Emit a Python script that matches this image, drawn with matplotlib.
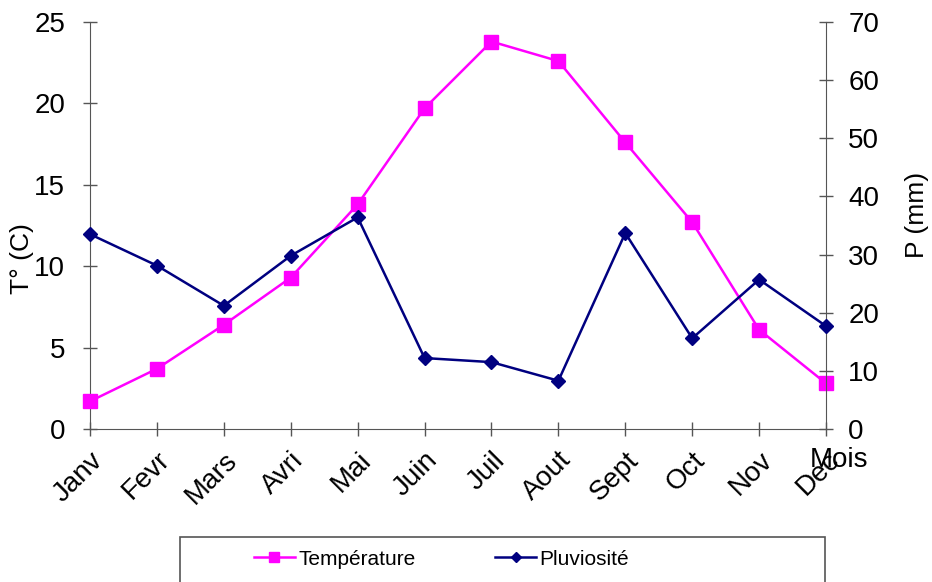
import matplotlib.pyplot as plt
from matplotlib.patches import Rectangle
from matplotlib.transforms import ScaledTranslation

plt.rcParams['font.family'] = ['Liberation Sans', 'DejaVu Sans']

mois = ['Janv', 'Fevr', 'Mars', 'Avri', 'Mai', 'Juin', 'Juil', 'Aout', 'Sept', 'Oct', 'Nov', 'Dec']
temperature = [1.7, 3.7, 6.4, 9.3, 13.8, 19.7, 23.8, 22.6, 17.6, 12.7, 6.1, 2.8]
pluviosite = [33.5, 28.1, 21.2, 29.8, 36.4, 12.2, 11.5, 8.3, 33.7, 15.6, 25.7, 17.7]

fig = plt.figure(figsize=(9.32, 5.82), dpi=100)
ax = fig.add_axes([0.0966, 0.2629, 0.7897, 0.6993])
ax2 = ax.twinx()

x = list(range(len(mois)))
l1, = ax.plot(x, temperature, color='#FF00FF', marker='s', markersize=10, linewidth=1.8, label='Température', clip_on=False, zorder=3)
l2, = ax2.plot(x, pluviosite, color='#000080', marker='D', markersize=7, linewidth=1.8, label='Pluviosité', clip_on=False, zorder=3)

ax.set_xlim(0, 11)
ax.set_ylim(0, 25)
ax2.set_ylim(0, 70)
ax.set_yticks(range(0, 26, 5))
ax2.set_yticks(range(0, 71, 10))
ax.set_xticks(x)
ax.set_xticklabels(mois, rotation=45, ha='right', va='top', rotation_mode='anchor')
shift = ScaledTranslation(5 / 100, 0, fig.dpi_scale_trans)
for lab in ax.get_xticklabels():
    lab.set_transform(lab.get_transform() + shift)

axcol = '#555555'
for a in (ax, ax2):
    for s in a.spines.values():
        s.set_visible(False)
    a.tick_params(direction='inout', length=10, width=1, color=axcol, labelsize=20)
ax.spines['left'].set_visible(True)
ax.spines['bottom'].set_visible(True)
ax2.spines['right'].set_visible(True)
for s in (ax.spines['left'], ax.spines['bottom'], ax2.spines['right']):
    s.set_color(axcol)
ax.tick_params(axis='y', pad=13)
ax2.tick_params(axis='y', pad=11)
ax.tick_params(axis='x', pad=8)

ax.set_ylabel('T° (C)', fontsize=19)
ax.yaxis.set_label_coords(-0.076, 0.418)
ax2.set_ylabel('P (mm)', fontsize=19)
ax2.yaxis.set_label_coords(1.107, 0.526)
fig.text(0.869, 0.209, 'Mois', fontsize=20, ha='left', va='center')

fig.patches.append(Rectangle((0.193, -0.1), 0.692, 0.1773, transform=fig.transFigure,
                             fill=False, edgecolor='#555555', linewidth=1.2))
fig.legend(handles=[l1, l2], loc='center left', bbox_to_anchor=(0.272, 0.0395), ncol=2,
           frameon=False, fontsize=15, handlelength=2.0, handletextpad=0.15,
           columnspacing=3.8, markerscale=0.75, borderpad=0, borderaxespad=0)

fig.savefig('out.png', dpi=100)
